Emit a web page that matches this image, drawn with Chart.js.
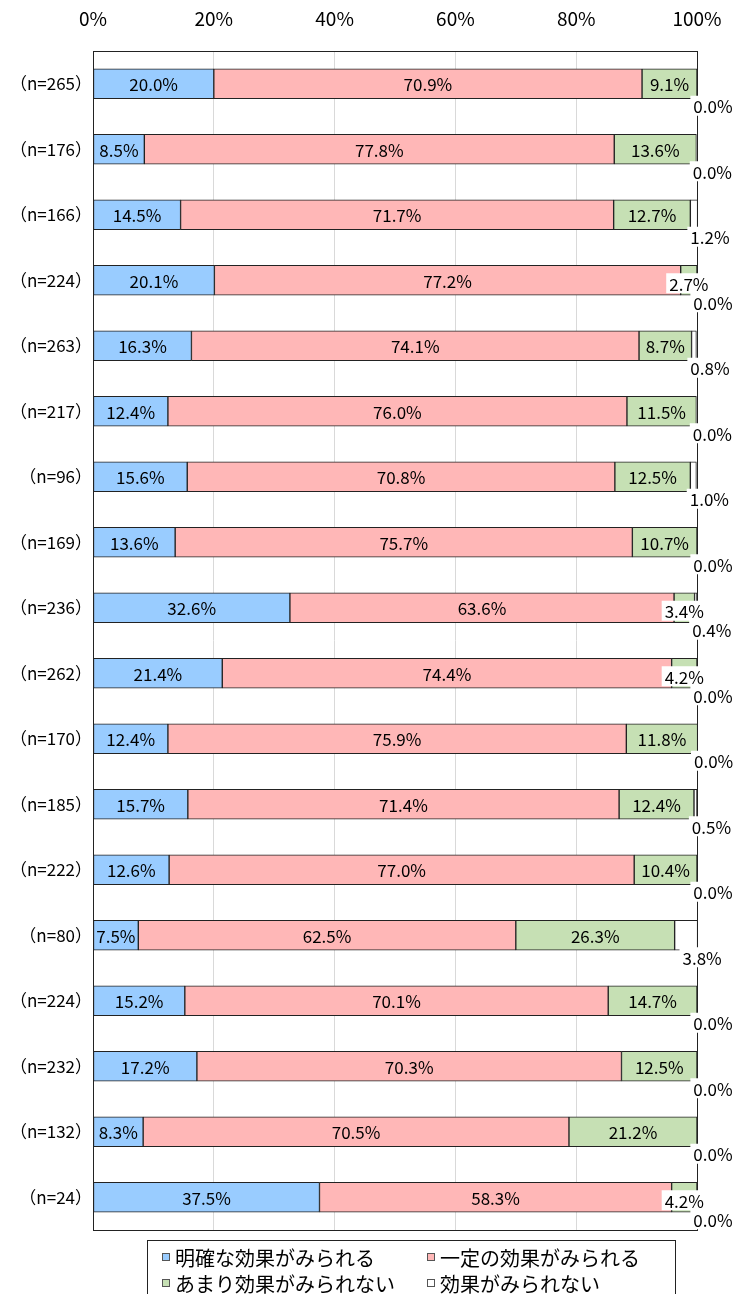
<!DOCTYPE html>
<html><head><meta charset="utf-8">
<script src="https://cdn.jsdelivr.net/npm/chart.js@4"></script>
<style>
html,body{margin:0;padding:0;background:#fff;overflow:hidden;}
#wrap{position:relative;width:738px;height:1294px;}
#legend{position:absolute;left:147px;top:1240px;width:529px;height:70px;border:1px solid #222;box-sizing:border-box;font-family:"Noto Sans CJK JP";font-size:20px;color:#000;}
.item{position:absolute;display:flex;align-items:center;white-space:nowrap;height:26px;}
.sw{width:6px;height:6px;border:1px solid #555;margin-right:5px;}
</style></head>
<body><div id="wrap"><canvas id="c" width="738" height="1294"></canvas><div id="legend"></div></div>
<script>
const categories = ["（n=265）","（n=176）","（n=166）","（n=224）","（n=263）","（n=217）","（n=96）","（n=169）","（n=236）","（n=262）","（n=170）","（n=185）","（n=222）","（n=80）","（n=224）","（n=232）","（n=132）","（n=24）"];
const seriesNames = ["明確な効果がみられる","一定の効果がみられる","あまり効果がみられない","効果がみられない"];
const clearEffect  = [20.0, 8.5,14.5,20.1,16.3,12.4,15.6,13.6,32.6,21.4,12.4,15.7,12.6, 7.5,15.2,17.2, 8.3,37.5];
const someEffect   = [70.9,77.8,71.7,77.2,74.1,76.0,70.8,75.7,63.6,74.4,75.9,71.4,77.0,62.5,70.1,70.3,70.5,58.3];
const littleEffect = [ 9.1,13.6,12.7, 2.7, 8.7,11.5,12.5,10.7, 3.4, 4.2,11.8,12.4,10.4,26.3,14.7,12.5,21.2, 4.2];
const noEffect     = [ 0.0, 0.0, 1.2, 0.0, 0.8, 0.0, 1.0, 0.0, 0.4, 0.0, 0.0, 0.5, 0.0, 3.8, 0.0, 0.0, 0.0, 0.0];
const tickLabels = ["0%","20%","40%","60%","80%","100%"];
const colors = ["#99CCFF","#FFB7B7","#C6E0B4","#FFFFFF"];
const FONT = '"Noto Sans CJK JP"';

const seriesData = [clearEffect, someEffect, littleEffect, noEffect];

const borderPlugin = {
  id:'plotBorder',
  beforeDatasetsDraw(chart){
    const a = chart.chartArea, ctx = chart.ctx;
    ctx.save();
    ctx.strokeStyle = '#222'; ctx.lineWidth = 1;
    ctx.strokeRect(Math.round(a.left)+0.5, Math.round(a.top)+0.5, Math.round(a.right-a.left), Math.round(a.bottom-a.top));
    ctx.restore();
  }
};

const labelPlugin = {
  id:'valueLabels',
  afterDatasetsDraw(chart){
    const ctx = chart.ctx;
    ctx.save();
    ctx.font = '17px ' + FONT;
    ctx.textAlign = 'center';
    ctx.textBaseline = 'middle';
    chart.data.datasets.forEach((ds, di) => {
      const meta = chart.getDatasetMeta(di);
      meta.data.forEach((bar, i) => {
        const v = ds.data[i];
        const txt = v.toFixed(1) + '%';
        const p = bar.getProps(['x','y','base'], true);
        let cx = (p.x + p.base) / 2, cy = p.y;
        const w = ctx.measureText(txt).width;
        let bg = false;
        if (di === 3) { cx = cx + 16; cy = p.y + 22; bg = true; }
        else if (di === 2 && v < 5) { cy = p.y + 3; bg = true; }
        if (bg) { ctx.fillStyle = '#fff'; ctx.fillRect(cx - w/2 - 3, cy - 10, w + 6, 20); }
        ctx.fillStyle = '#000';
        ctx.fillText(txt, cx, cy + 1);
      });
    });
    ctx.restore();
  }
};

new Chart(document.getElementById('c'), {
  type: 'bar',
  data: {
    labels: categories,
    datasets: seriesNames.map((n, k) => ({
      label: n,
      data: seriesData[k],
      backgroundColor: colors[k],
      borderColor: '#222',
      borderWidth: 1,
      borderSkipped: false,
      barThickness: 30
    }))
  },
  options: {
    indexAxis: 'y',
    responsive: false,
    animation: false,
    devicePixelRatio: 1,
    layout: { padding: { left: 0, right: 41, top: 0, bottom: 64 } },
    plugins: { legend: { display: false }, tooltip: { enabled: false } },
    scales: {
      x: {
        position: 'top',
        stacked: true,
        min: 0, max: 100,
        ticks: { stepSize: 20, padding: 21, color: '#000', font: { family: FONT, size: 19 },
          callback: (v) => tickLabels[Math.round(v/20)] },
        grid: { color: '#D9D9D9', drawTicks: false },
        border: { display: false },
        afterFit(s){ s.height = 51; s.paddingLeft = 0; s.paddingRight = 0; }
      },
      y: {
        stacked: true,
        ticks: { padding: 1, color: '#000', font: { family: FONT, size: 17 } },
        grid: { display: false, drawTicks: false },
        border: { display: false },
        afterFit(s){ s.width = 93; }
      }
    }
  },
  plugins: [borderPlugin, labelPlugin]
});

const lg = document.getElementById('legend');
const pos = [[14,3],[279,3],[14,29],[279,29]];
seriesNames.forEach((n, k) => {
  const d = document.createElement('div');
  d.className = 'item';
  d.style.left = pos[k][0] + 'px';
  d.style.top = pos[k][1] + 'px';
  d.innerHTML = '<span class="sw" style="background:' + colors[k] + '"></span><span>' + n + '</span>';
  lg.appendChild(d);
});
</script>
</body></html>
